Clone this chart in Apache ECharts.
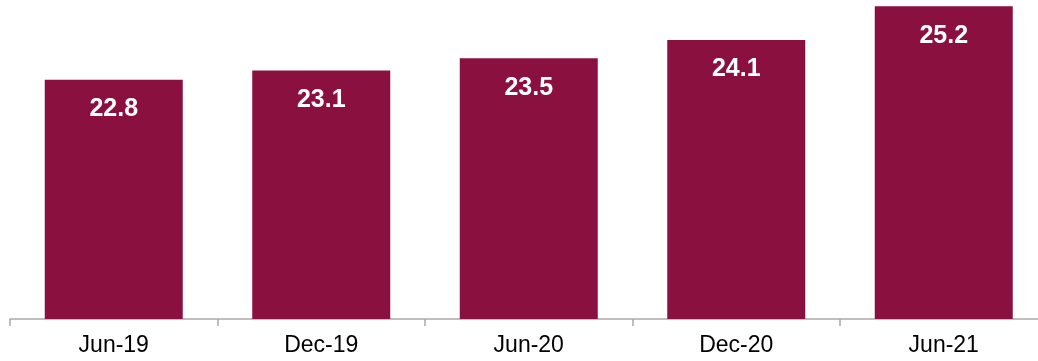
<!DOCTYPE html>
<html>
<head>
<meta charset="utf-8">
<script src="https://cdn.jsdelivr.net/npm/echarts@6/dist/echarts.min.js"></script>
<style>
  html, body { margin: 0; padding: 0; background: #ffffff; }
  #chart { width: 1038px; height: 361px; }
</style>
</head>
<body>
<div id="chart"></div>
<script>
// Half-year periods and their values
const periods = ['Jun-19', 'Dec-19', 'Jun-20', 'Dec-20', 'Jun-21'];
const values = [22.8, 23.1, 23.5, 24.1, 25.2];

const chart = echarts.init(document.getElementById('chart'), null, { renderer: 'canvas' });

chart.setOption({
  animation: false,
  backgroundColor: '#ffffff',
  grid: {
    left: 10, width: 1037.5, top: 0, bottom: 42,
    containLabel: false,
    outerBoundsMode: 'none'
  },
  xAxis: {
    type: 'category',
    data: periods,
    boundaryGap: true,
    axisLine: { show: true, lineStyle: { color: '#ababab', width: 1.5 } },
    axisTick: { show: true, length: 7, lineStyle: { color: '#ababab', width: 1.5 } },
    axisLabel: {
      margin: 15,
      color: '#000000',
      fontFamily: 'Liberation Sans, Arial, sans-serif',
      fontSize: 23
    }
  },
  yAxis: {
    type: 'value',
    min: 15,
    max: 25.4,
    show: false,
    splitLine: { show: false }
  },
  series: [{
    type: 'bar',
    data: values,
    barWidth: 138,
    itemStyle: { color: '#8A1040' },
    label: {
      show: true,
      position: 'insideTop',
      distance: 17,
      color: '#ffffff',
      fontWeight: 'bold',
      fontFamily: 'Liberation Sans, Arial, sans-serif',
      fontSize: 25,
      formatter: p => p.value.toFixed(1)
    }
  }]
});
</script>
</body>
</html>
